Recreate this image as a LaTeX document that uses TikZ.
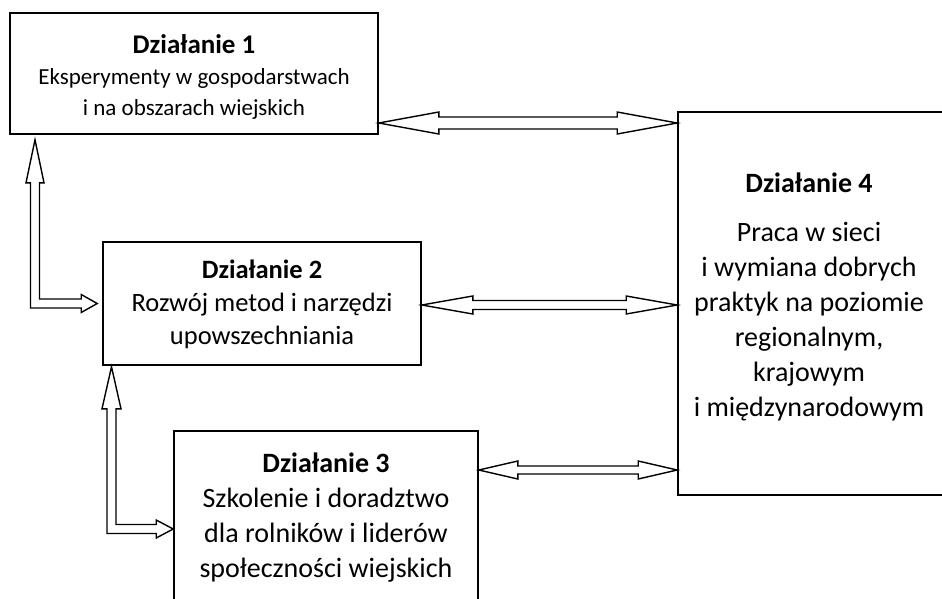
\documentclass[tikz,border=0pt]{standalone}
\usepackage{fontspec}
\setmainfont{Carlito}
\usetikzlibrary{calc}
\tikzset{
  box/.style={draw=black, line width=1.6pt, inner sep=0pt},
  blockarrow/.style={draw=black, line width=1.4pt, fill=white, line join=miter},
  txt/.style={align=center, inner sep=0pt},
}
\newcommand\hdbl[5]{%
  \draw[blockarrow] let \p1=(#1), \p2=(#2) in
    (\x1,\y1) -- (\x1+#3,\y1+#4) -- (\x1+#3,\y1+#5) -- (\x2-#3,\y1+#5) --
    (\x2-#3,\y1+#4) -- (\x2,\y1) -- (\x2-#3,\y1-#4) -- (\x2-#3,\y1-#5) --
    (\x1+#3,\y1-#5) -- (\x1+#3,\y1-#4) -- cycle;}
\begin{document}
\begin{tikzpicture}[x=1pt,y=-1pt]
\useasboundingbox (0,0) rectangle (942,598);
\clip (0,0) rectangle (942,598);
\fill[white] (0,0) rectangle (942,598);
% boxes
\node[box, minimum width=368pt, minimum height=121pt] (b1) at (194,73.5) {};
\node[box, minimum width=318pt, minimum height=123pt] (b2) at (262,303.5) {};
\node[box, minimum width=304pt, minimum height=196pt] (b3) at (326,529) {};
\node[box, minimum width=272pt, minimum height=383pt] (b4) at (814,303.5) {};
% texts
\node[txt, font=\fontsize{23}{31}\selectfont] (t1) at (194,77)
  {{\fontsize{27}{31}\selectfont\bfseries Działanie 1}\\ Eksperymenty w gospodarstwach\\ i na obszarach wiejskich};
\node[txt, font=\fontsize{26.5}{33}\selectfont] (t2) at (262,304)
  {{\bfseries Działanie 2}\\ Rozwój metod i narzędzi\\ upowszechniania};
\node[txt, font=\fontsize{28}{35}\selectfont] (t3) at (326,518)
  {{\bfseries Działanie 3}\\ Szkolenie i doradztwo\\ dla rolników i liderów\\ społeczności wiejskich};
\node[txt, font=\fontsize{28}{35}\selectfont] (t4) at (809,297)
  {{\bfseries Działanie 4}\\[14pt] Praca w sieci\\ i wymiana dobrych\\ praktyk na poziomie\\ regionalnym,\\ krajowym\\ i międzynarodowym};
% horizontal double arrows
\coordinate (ya) at (0,123);
\coordinate (yb) at (0,305);
\coordinate (yc) at (0,470);
\hdbl{b1.east |- ya}{b4.west |- ya}{60pt}{11pt}{6pt}
\hdbl{b2.east |- yb}{b4.west |- yb}{51pt}{9pt}{4.5pt}
\hdbl{b3.east |- yc}{b4.west |- yc}{39pt}{9pt}{4pt}
% elbow arrow 1 -> 2
\draw[blockarrow] let \p1=(b1.south), \p2=(b2.west) in
  (35pt,\y1-5pt) -- (44pt,\y1-48pt) -- (39.5pt,\y1-48pt) -- (39.5pt,\y2+4.5pt) --
  (\x2-21pt,\y2+4.5pt) -- (\x2-21pt,\y2+9pt) -- (\x2-5pt,\y2) -- (\x2-21pt,\y2-9pt) --
  (\x2-21pt,\y2-4.5pt) -- (30.5pt,\y2-4.5pt) -- (30.5pt,\y1-48pt) -- (26pt,\y1-48pt) -- cycle;
% elbow arrow 2 -> 3
\draw[blockarrow] let \p1=(b2.south), \p2=(b3.west) in
  (111.5pt,\y1-1pt) -- (121pt,\y1-43pt) -- (116pt,\y1-43pt) -- (116pt,\y2+4.5pt) --
  (\x2-17pt,\y2+4.5pt) -- (\x2-17pt,\y2+9pt) -- (\x2,\y2) -- (\x2-17pt,\y2-9pt) --
  (\x2-17pt,\y2-4.5pt) -- (107pt,\y2-4.5pt) -- (107pt,\y1-43pt) -- (102pt,\y1-43pt) -- cycle;
\end{tikzpicture}
\end{document}
